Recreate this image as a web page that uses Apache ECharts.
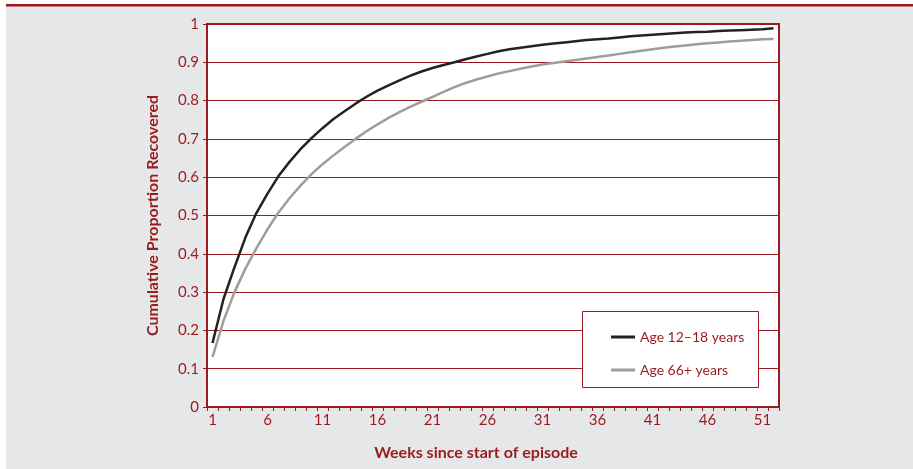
<!DOCTYPE html>
<html><head><meta charset="utf-8">
<script src="https://cdn.jsdelivr.net/npm/echarts@6/dist/echarts.min.js"></script>
<style>html,body{margin:0;padding:0;background:#fff}#c{width:913px;height:469px}</style>
</head><body><div id="c"></div>
<script>
const weeks = Array.from({length: 52}, (_, i) => String(i + 1));
const age12to18 = [0.167,0.282,0.365,0.443,0.507,0.557,0.603,0.64,0.673,0.702,0.728,0.752,0.772,0.792,0.81,0.826,0.84,0.853,0.865,0.876,0.885,0.893,0.90,0.908,0.915,0.922,0.929,0.934,0.938,0.942,0.946,0.949,0.952,0.955,0.958,0.96,0.962,0.965,0.968,0.97,0.972,0.974,0.976,0.978,0.979,0.98,0.982,0.983,0.984,0.985,0.986,0.989];
const age66plus = [0.13,0.225,0.30,0.362,0.415,0.464,0.508,0.545,0.578,0.608,0.634,0.657,0.679,0.70,0.72,0.738,0.755,0.77,0.784,0.797,0.81,0.823,0.835,0.846,0.855,0.863,0.871,0.877,0.883,0.889,0.894,0.898,0.902,0.906,0.91,0.914,0.918,0.922,0.926,0.93,0.934,0.938,0.941,0.944,0.947,0.95,0.952,0.954,0.956,0.958,0.96,0.961];
const seriesNames = ['Age 12\u201318 years', 'Age 66+ years'];
const yTicks = [0,0.1,0.2,0.3,0.4,0.5,0.6,0.7,0.8,0.9,1];

const RED = '#9a1b1e';
const FONT = 'Lato';
const chart = echarts.init(document.getElementById('c'), null, {renderer: 'canvas'});
chart.setOption({
  animation: false,
  backgroundColor: '#ffffff',
  graphic: [
    {type: 'rect', z: -10, shape: {x: 6, y: 6, width: 907, height: 463}, style: {fill: '#e6e7e9'}},
    {type: 'rect', z: -9, shape: {x: 6, y: 4, width: 907, height: 2.5}, style: {fill: RED}},
    {type: 'rect', z: 10, shape: {x: 582.5, y: 311.5, width: 176, height: 76}, style: {fill: '#ffffff', stroke: RED, lineWidth: 1}}
  ],
  grid: {left: 207, top: 24, right: 134, bottom: 62, show: true, backgroundColor: '#ffffff', borderColor: RED, borderWidth: 2},
  legend: {
    z: 20, left: 606, top: 324, orient: 'vertical', itemGap: 17,
    itemWidth: 24, itemHeight: 3, icon: 'rect',
    textStyle: {color: RED, fontFamily: FONT, fontSize: 14, lineHeight: 16},
    data: seriesNames
  },
  xAxis: {
    type: 'category', data: weeks, boundaryGap: true,
    name: 'Weeks since start of episode', nameLocation: 'middle', nameGap: 38,
    nameTextStyle: {color: RED, fontFamily: FONT, fontSize: 16, fontWeight: 'bold', padding: [0, 34, 0, 0]},
    axisLine: {show: true, lineStyle: {color: RED, width: 2}},
    axisTick: {show: true, interval: 0, length: 4, lineStyle: {color: RED, width: 1}},
    axisLabel: {interval: 4, color: RED, fontFamily: FONT, fontSize: 15, margin: 6},
    splitLine: {show: false}
  },
  yAxis: {
    type: 'value', min: 0, max: 1, interval: 0.1,
    name: 'Cumulative Proportion Recovered', nameLocation: 'middle', nameGap: 46,
    nameTextStyle: {color: RED, fontFamily: FONT, fontSize: 16, fontWeight: 'bold'},
    axisLine: {show: true, lineStyle: {color: RED, width: 2}},
    axisTick: {show: true, length: 4, lineStyle: {color: RED, width: 1}},
    axisLabel: {color: RED, fontFamily: FONT, fontSize: 15, margin: 8,
      formatter: v => { const t = yTicks.find(x => Math.abs(x - v) < 1e-9); return t === undefined ? '' : String(t); }},
    splitLine: {show: true, lineStyle: {color: RED, width: 1}}
  },
  series: [
    {name: seriesNames[0], type: 'line', data: age12to18, showSymbol: false, symbol: 'none', lineStyle: {color: '#222222', width: 2.5}, itemStyle: {color: '#222222'}},
    {name: seriesNames[1], type: 'line', data: age66plus, showSymbol: false, symbol: 'none', lineStyle: {color: '#9d9d9d', width: 2.5}, itemStyle: {color: '#9d9d9d'}}
  ]
});
</script></body></html>
